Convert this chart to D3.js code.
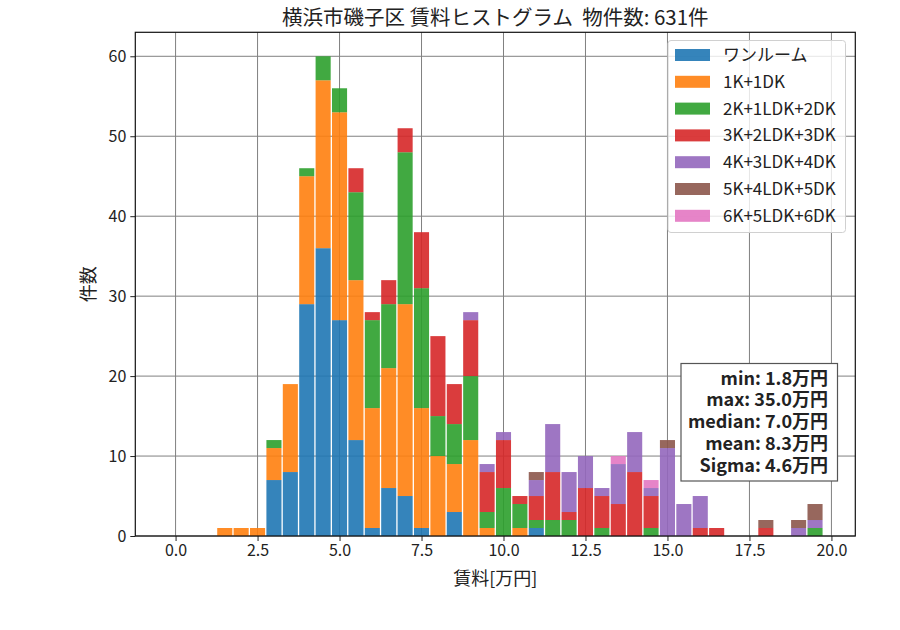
<!DOCTYPE html>
<html>
<head>
<meta charset="utf-8">
<script src="https://cdn.jsdelivr.net/npm/d3@7"></script>
<style>
  body { margin: 0; background: #fff; }
  text { font-family: "Noto Sans CJK JP", "Noto Sans", sans-serif; fill: #222; }
</style>
</head>
<body>
<svg id="chart" width="900" height="630"></svg>
<script>
// bin centres (万円), step 0.5
const binCenters = d3.range(40).map(i => i / 2);
const layouts = ['ワンルーム', '1K+1DK', '2K+1LDK+2DK', '3K+2LDK+3DK', '4K+3LDK+4DK', '5K+4LDK+5DK', '6K+5LDK+6DK'];
const oneRoom = [0,0,0,0,0,0,7,8,29,36,27,12,1,6,5,1,0,3,0,0,0,0,1,0,0,0,0,0,0,0,0,0,0,0,0,0,0,0,0,0];
const k1 =      [0,0,0,1,1,1,4,11,16,21,26,20,15,15,24,15,10,6,12,1,0,1,0,0,0,0,0,0,0,0,0,0,0,0,0,0,0,0,0,0];
const k2 =      [0,0,0,0,0,0,1,0,1,3,3,11,11,8,19,15,5,5,8,2,6,3,1,2,2,0,1,0,0,1,0,0,0,0,0,0,0,0,0,1];
const k3 =      [0,0,0,0,0,0,0,0,0,0,0,3,1,3,3,7,10,5,7,5,6,1,3,6,1,6,4,4,8,4,0,0,1,1,0,0,1,0,0,0];
const k4 =      [0,0,0,0,0,0,0,0,0,0,0,0,0,0,0,0,0,0,1,1,1,0,2,6,5,4,1,5,5,1,11,4,4,0,0,0,0,0,1,1];
const k5 =      [0,0,0,0,0,0,0,0,0,0,0,0,0,0,0,0,0,0,0,0,0,0,1,0,0,0,0,0,0,0,1,0,0,0,0,0,1,0,1,2];
const k6 =      [0,0,0,0,0,0,0,0,0,0,0,0,0,0,0,0,0,0,0,0,0,0,0,0,0,0,0,1,0,1,0,0,0,0,0,0,0,0,0,0];
const series = [oneRoom, k1, k2, k3, k4, k5, k6];
const colors = ['#1f77b4', '#ff7f0e', '#2ca02c', '#d62728', '#9467bd', '#8c564b', '#e377c2'];
const xTicks = [0, 2.5, 5, 7.5, 10, 12.5, 15, 17.5, 20];
const yTicks = [0, 10, 20, 30, 40, 50, 60];
const stats = ['min: 1.8万円', 'max: 35.0万円', 'median: 7.0万円', 'mean: 8.3万円', 'Sigma: 4.6万円'];
const title = '横浜市磯子区 賃料ヒストグラム  物件数: 631件';

const svg = d3.select('#chart');
const pl = 135.3, pr = 855.3, pt = 32.3, pb = 536;
const binW = 0.5, rwidth = 0.92;

const x = d3.scaleLinear().domain([-1.228, 20.728]).range([pl, pr]);
const y = d3.scaleLinear().domain([0, 63]).range([pb, pt]);

// rows for d3.stack
const rows = binCenters.map((c, i) => {
  const r = { c: c };
  layouts.forEach((k, j) => r[k] = series[j][i]);
  return r;
});
const stacked = d3.stack().keys(layouts)(rows);

// grid
const grid = svg.append('g');
grid.selectAll('.gx').data(xTicks).join('line')
  .attr('x1', d => x(d)).attr('x2', d => x(d))
  .attr('y1', pt).attr('y2', pb)
  .attr('stroke', '#808080').attr('stroke-width', 1);
grid.selectAll('.gy').data(yTicks).join('line')
  .attr('x1', pl).attr('x2', pr)
  .attr('y1', d => y(d)).attr('y2', d => y(d))
  .attr('stroke', '#808080').attr('stroke-width', 1);

// bars
svg.append('g').selectAll('g').data(stacked).join('g')
  .attr('fill', (d, i) => colors[i]).attr('fill-opacity', 0.9)
  .selectAll('rect').data(d => d.filter(s => s[1] > s[0])).join('rect')
  .attr('x', s => x(s.data.c - binW * rwidth / 2))
  .attr('width', s => x(s.data.c + binW * rwidth / 2) - x(s.data.c - binW * rwidth / 2))
  .attr('y', s => y(s[1]))
  .attr('height', s => y(s[0]) - y(s[1]));

// axes
const xAxis = svg.append('g').attr('transform', `translate(0,${pb})`)
  .call(d3.axisBottom(x).tickValues(xTicks).tickFormat(d3.format('.1f')).tickSizeOuter(0).tickSize(5).tickPadding(4));
const yAxis = svg.append('g').attr('transform', `translate(${pl},0)`)
  .call(d3.axisLeft(y).tickValues(yTicks).tickSizeOuter(0).tickSize(5).tickPadding(4));
[xAxis, yAxis].forEach(a => {
  a.select('.domain').remove();
  a.selectAll('text').style('font-size', '16px').attr('fill', '#222');
  a.selectAll('line').attr('stroke', '#222');
});

svg.append('rect')
  .attr('x', pl).attr('y', pt).attr('width', pr - pl).attr('height', pb - pt)
  .attr('fill', 'none').attr('stroke', '#111').attr('stroke-width', 1.2);

// labels
svg.append('text').attr('x', (pl + pr) / 2).attr('y', 25)
  .attr('text-anchor', 'middle').style('font-size', '20.5px').style('white-space', 'pre').text(title);
svg.append('text').attr('x', (pl + pr) / 2).attr('y', 585)
  .attr('text-anchor', 'middle').style('font-size', '18px').text('賃料[万円]');
svg.append('text').attr('transform', `translate(95,${(pt + pb) / 2}) rotate(-90)`)
  .attr('text-anchor', 'middle').style('font-size', '18px').text('件数');

// legend
const lg = svg.append('g');
lg.append('rect').attr('x', 668).attr('y', 40.5).attr('width', 177.5).attr('height', 192)
  .attr('rx', 3).attr('fill', '#fff').attr('fill-opacity', 0.8).attr('stroke', '#d0d0d0');
const item = lg.selectAll('.it').data(layouts).join('g')
  .attr('transform', (d, i) => `translate(675,${55 + i * 26.8})`);
item.append('rect').attr('x', 0).attr('y', -6).attr('width', 35).attr('height', 12)
  .attr('fill', (d, i) => colors[i]).attr('fill-opacity', 0.9);
item.append('text').attr('x', 48).attr('y', 6).style('font-size', '17px').text(d => d);

// stats box
svg.append('rect').attr('x', 681).attr('y', 363.5).attr('width', 156.5).attr('height', 117.5)
  .attr('fill', '#fff').attr('stroke', '#555').attr('stroke-width', 1.2);
svg.append('g').selectAll('text').data(stats).join('text')
  .attr('x', 828).attr('y', (d, i) => 384.5 + i * 21.8)
  .attr('text-anchor', 'end').style('font-size', '18px').style('font-weight', 'bold')
  .attr('fill', '#333').text(d => d);
</script>
</body>
</html>
